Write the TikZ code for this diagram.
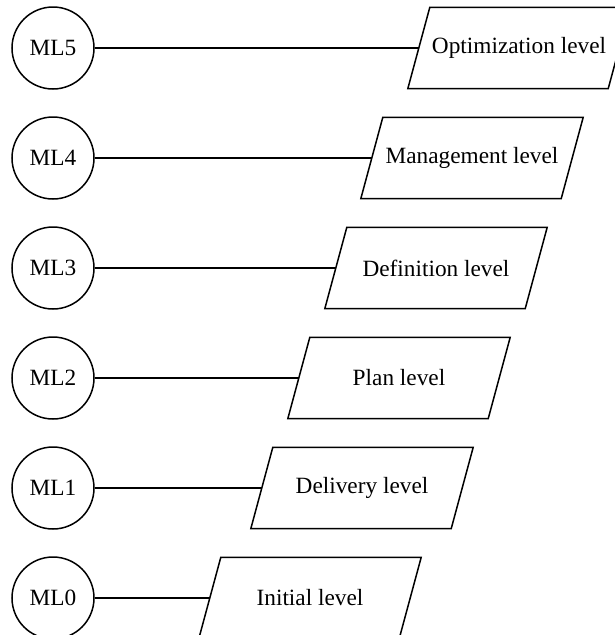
\documentclass[tikz,border=0pt]{standalone}
\usepackage{fontspec}
\setmainfont{Liberation Serif}
\begin{document}
\begin{tikzpicture}[x=1pt, y=-1pt,
  level/.style={circle, draw, line width=1.5pt, minimum size=82pt, inner sep=0pt,
    font=\fontsize{23.3}{28}\selectfont},
  stage/.style={rectangle, minimum width=200pt, minimum height=81pt, inner sep=0pt,
    font=\fontsize{23.3}{28}\selectfont},
  frame/.style={line width=1.5pt, line join=miter},
  link/.style={line width=1.5pt}]
  \path[use as bounding box] (0,0) rectangle (615,635);

  \node[level] (m5) at (53,48)  {ML5};
  \node[level] (m4) at (53,158) {ML4};
  \node[level] (m3) at (53,268) {ML3};
  \node[level] (m2) at (53,378) {ML2};
  \node[level] (m1) at (53,488) {ML1};
  \node[level] (m0) at (53,598) {ML0};

  \node[stage] (s5) at (519,48)  {Optimization level};
  \node[stage] (s4) at (472,158) {Management level};
  \node[stage] (s3) at (436,268) {Definition level};
  \node[stage] (s2) at (399,378) {Plan level};
  \node[stage] (s1) at (362,488) {Delivery level};
  \node[stage] (s0) at (310,598) {Initial level};

  % slanted outline of each stage box, leaning to the right
  \foreach \i in {0,...,5}
    \draw[frame] ([xshift=-11pt]s\i.south west) -- ([xshift=-11pt]s\i.south east)
      -- ([xshift=11pt]s\i.north east) -- ([xshift=11pt]s\i.north west) -- cycle;

  \foreach \i in {0,...,5}
    \draw[link] (m\i) -- (s\i.west);
\end{tikzpicture}
\end{document}
